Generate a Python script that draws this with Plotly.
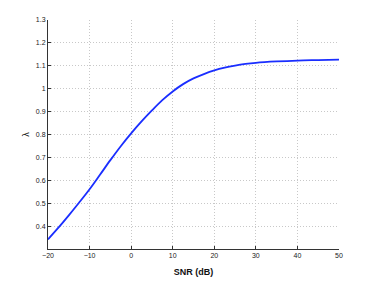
import plotly.graph_objects as go

# SNR (dB) vs lambda
snr_db = [-20, -17.5, -15, -12.5, -10, -7.5, -5, -2.5, 0, 2.5, 5, 7.5, 10, 12.5,
          15, 17.5, 20, 22.5, 25, 27.5, 30, 35, 40, 45, 50]
lam = [0.342, 0.393, 0.447, 0.503, 0.561, 0.624, 0.688, 0.749, 0.805, 0.857,
       0.905, 0.950, 0.988, 1.020, 1.045, 1.064, 1.080, 1.092, 1.101, 1.108,
       1.113, 1.119, 1.123, 1.125, 1.127]

x_ticks = [-20, -10, 0, 10, 20, 30, 40, 50]
y_ticks = [0.4, 0.5, 0.6, 0.7, 0.8, 0.9, 1.0, 1.1, 1.2, 1.3]
y_labels = ["0.4", "0.5", "0.6", "0.7", "0.8", "0.9", "1", "1.1", "1.2", "1.3"]

X_RANGE = [-20, 50]
Y_RANGE = [0.3, 1.3]
GRID = "#c8c8c8"
FONT = "Liberation Sans, Arial, sans-serif"

fig = go.Figure()
fig.add_trace(go.Scatter(
    x=snr_db, y=lam,
    mode="lines",
    line=dict(color="#1a2eff", width=1.8, shape="spline", smoothing=1.0),
    showlegend=False,
    hoverinfo="skip",
))

fig.update_layout(
    width=374, height=281,
    paper_bgcolor="white",
    plot_bgcolor="white",
    font=dict(family=FONT, color="#222", size=7),
    margin=dict(l=48, r=35, t=20, b=32, autoexpand=False),
    xaxis=dict(
        range=X_RANGE,
        tickvals=x_ticks,
        ticks="inside", ticklen=3, tickcolor="#333",
        showline=True, linecolor="#333", linewidth=1,
        showgrid=True, gridcolor=GRID, griddash="1px,2px", gridwidth=1,
        zeroline=False, automargin=False,
        tickfont=dict(size=7),
        title=dict(text="<b>SNR (dB)</b>", font=dict(size=9, color="#111"), standoff=10),
    ),
    yaxis=dict(
        range=Y_RANGE,
        tickvals=y_ticks, ticktext=y_labels,
        ticks="inside", ticklen=3, tickcolor="#333",
        showline=True, linecolor="#333", linewidth=1,
        showgrid=True, gridcolor=GRID, griddash="1px,2px", gridwidth=1,
        zeroline=False, automargin=False,
        tickfont=dict(size=7),
        title=dict(text="λ", font=dict(size=9, color="#111"), standoff=4),
    ),
    xaxis2=dict(
        range=X_RANGE, overlaying="x", side="top", anchor="y",
        tickvals=x_ticks, showticklabels=False,
        ticks="inside", ticklen=3, tickcolor="#888",
        showline=True, linecolor="#888", linewidth=1,
        showgrid=False, zeroline=False,
    ),
    yaxis2=dict(
        range=Y_RANGE, overlaying="y", side="right", anchor="x",
        tickvals=y_ticks, showticklabels=False,
        ticks="inside", ticklen=3, tickcolor="#888",
        showline=True, linecolor="#888", linewidth=1,
        showgrid=False, zeroline=False,
    ),
)

# drop the default page margin so the figure sits at the window's corner
fig.write_html("out.html", config={"displayModeBar": False},
               post_script="document.body.style.margin='0';")
